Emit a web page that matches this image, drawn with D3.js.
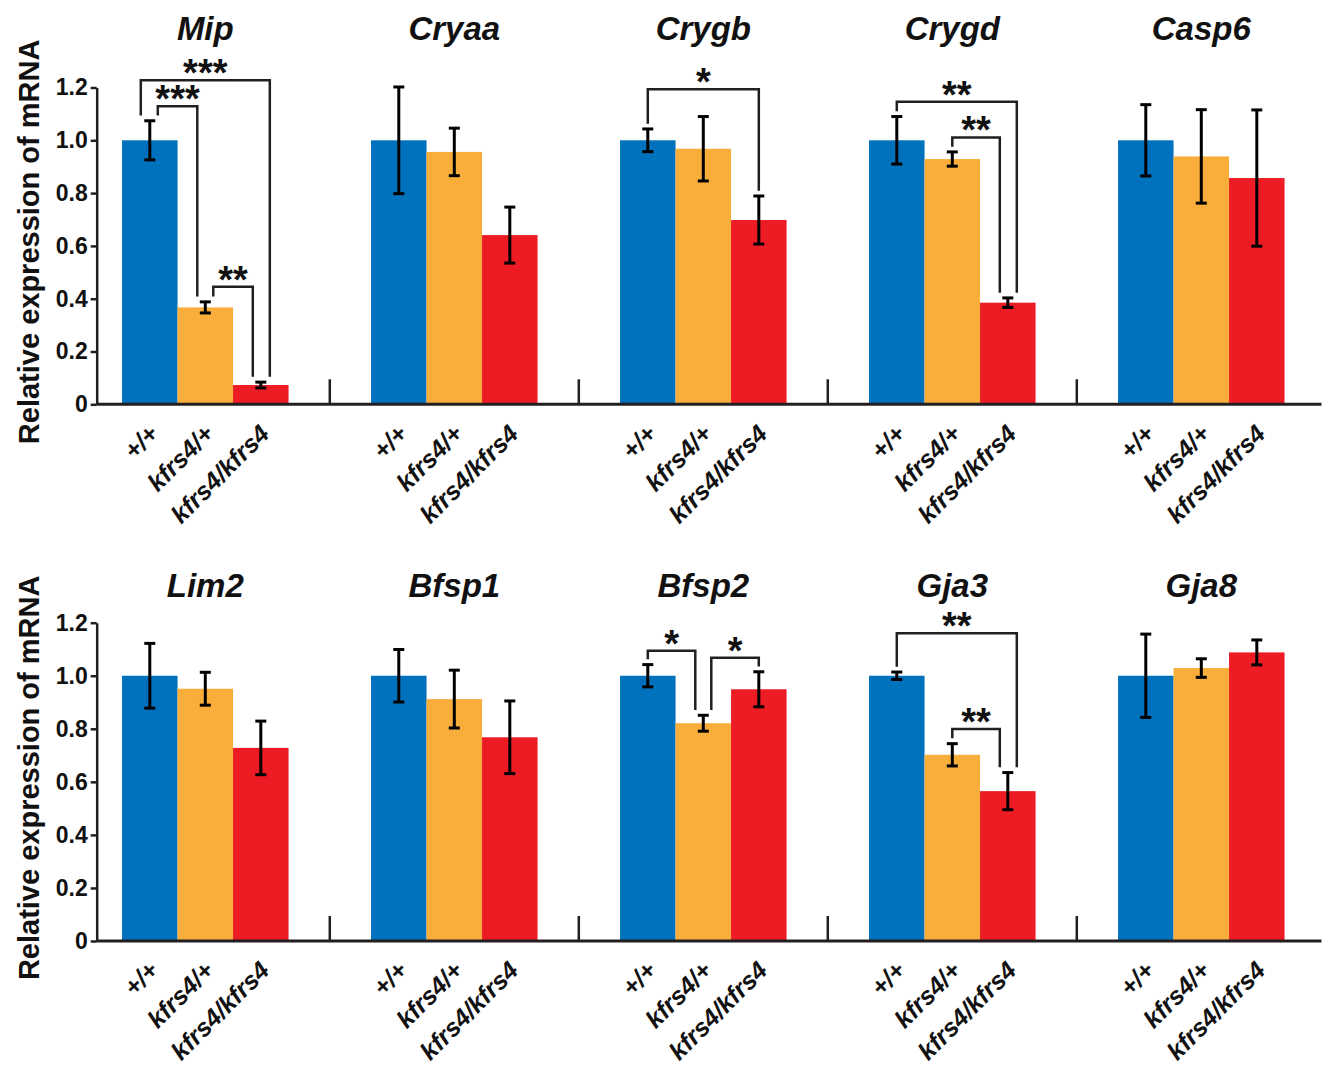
<!DOCTYPE html>
<html>
<head>
<meta charset="utf-8">
<script src="https://cdn.jsdelivr.net/npm/d3@7"></script>
<style>
  body { margin: 0; background: #fff; }
  svg { display: block; }
  text { font-family: "Liberation Sans", Arial, sans-serif; font-weight: bold; fill: #111; }
</style>
</head>
<body>
<div class="chart"></div>
<script>
// genes, two rows of five
const genes = ["Mip", "Cryaa", "Crygb", "Crygd", "Casp6", "Lim2", "Bfsp1", "Bfsp2", "Gja3", "Gja8"];
const genotypes = ["+/+", "kfrs4/+", "kfrs4/kfrs4"];

// relative mRNA level (mean) and error for each genotype
const meanWT  = [1.0, 1.0, 1.0, 1.0, 1.0, 1.0, 1.0, 1.0, 1.0, 1.0];
const errWT   = [0.074, 0.202, 0.043, 0.09, 0.135, 0.122, 0.099, 0.042, 0.014, 0.157];
const meanHet = [0.367, 0.956, 0.968, 0.929, 0.939, 0.951, 0.912, 0.821, 0.702, 1.029];
const errHet  = [0.021, 0.09, 0.122, 0.027, 0.177, 0.062, 0.109, 0.03, 0.042, 0.035];
const meanHom = [0.073, 0.641, 0.698, 0.385, 0.857, 0.728, 0.768, 0.949, 0.565, 1.088];
const errHom  = [0.011, 0.106, 0.091, 0.018, 0.258, 0.101, 0.137, 0.066, 0.07, 0.047];

const yTicks = [0, 0.2, 0.4, 0.6, 0.8, 1.0, 1.2];
const yTickLabels = ["0", "0.2", "0.4", "0.6", "0.8", "1.0", "1.2"];
const yTitle = "Relative expression of mRNA";

// significance brackets: gene, genotype index from/to, bracket height (data units), stars
const sigGene  = ["Mip", "Mip", "Mip", "Crygb", "Crygd", "Crygd", "Bfsp2", "Bfsp2", "Gja3", "Gja3"];
const sigFrom  = [0, 0, 1, 0, 0, 1, 0, 1, 0, 1];
const sigTo    = [2, 1, 2, 2, 2, 2, 1, 2, 2, 2];
const sigLevel = [1.227, 1.129, 0.445, 1.193, 1.146, 1.011, 1.094, 1.068, 1.16, 0.799];
const sigText  = ["***", "***", "**", "*", "**", "**", "*", "*", "**", "**"];

const colors = ["#0071bc", "#f9ae3b", "#ed1c24"];
const ink = "#231f20";

const W = 1323, H = 1067;
const rows = [
  { base: 404.3, top: 87.5, titleY: 40 },
  { base: 941, top: 622.7, titleY: 597 }
];
const axisX = 96.7, axisEnd = 1321.5;

const svg = d3.select(".chart").append("svg").attr("width", W).attr("height", H);

const x = d3.scaleBand().domain(d3.range(5)).range([80.8, 1325.8]);
const xi = d3.scaleBand().domain(d3.range(3)).range([0, x.bandwidth()])
  .paddingInner(0).paddingOuter(0.743);

const means = [meanWT, meanHet, meanHom];
const errs = [errWT, errHet, errHom];

rows.forEach((row, r) => {
  const y = d3.scaleLinear().domain([0, 1.2]).range([row.base, row.top]);
  const g = svg.append("g");
  const cx = (i, j) => x(i) + xi(j) + xi.bandwidth() / 2;

  // bars
  for (let i = 0; i < 5; i++) {
    const gi = r * 5 + i;
    g.selectAll(null).data(d3.range(3)).join("rect")
      .attr("x", j => x(i) + xi(j))
      .attr("y", j => y(means[j][gi]))
      .attr("width", xi.bandwidth())
      .attr("height", j => row.base - y(means[j][gi]))
      .attr("fill", j => colors[j]);

    // error bars
    const eb = g.selectAll(null).data(d3.range(3)).join("g")
      .attr("stroke", "#000").attr("stroke-width", 3);
    eb.append("line")
      .attr("x1", j => cx(i, j)).attr("x2", j => cx(i, j))
      .attr("y1", j => y(means[j][gi] + errs[j][gi]))
      .attr("y2", j => y(means[j][gi] - errs[j][gi]));
    eb.append("line")
      .attr("x1", j => cx(i, j) - 5.5).attr("x2", j => cx(i, j) + 5.5)
      .attr("y1", j => y(means[j][gi] + errs[j][gi]))
      .attr("y2", j => y(means[j][gi] + errs[j][gi]));
    eb.append("line")
      .attr("x1", j => cx(i, j) - 5.5).attr("x2", j => cx(i, j) + 5.5)
      .attr("y1", j => y(means[j][gi] - errs[j][gi]))
      .attr("y2", j => y(means[j][gi] - errs[j][gi]));

    // gene title
    g.append("text")
      .attr("x", x(i) + x.bandwidth() / 2)
      .attr("y", row.titleY)
      .attr("text-anchor", "middle")
      .attr("font-size", 33)
      .attr("font-style", "italic")
      .text(genes[gi]);

    // genotype labels
    g.selectAll(null).data(genotypes).join("text")
      .attr("transform", (d, j) => `translate(${cx(i, j) + 10},${row.base + 31}) rotate(-45)`)
      .attr("text-anchor", "end")
      .attr("font-size", 25)
      .attr("font-style", "italic")
      .text(d => d);

    // separator ticks on the baseline
    if (i > 0) {
      g.append("line")
        .attr("x1", x(i)).attr("x2", x(i))
        .attr("y1", row.base - 25).attr("y2", row.base)
        .attr("stroke", ink).attr("stroke-width", 2.5);
    }
  }

  // significance brackets for this row
  const idx = d3.range(sigGene.length).filter(k => genes.indexOf(sigGene[k]) >= r * 5 && genes.indexOf(sigGene[k]) < r * 5 + 5);
  idx.forEach(k => {
    const gi = genes.indexOf(sigGene[k]);
    const i = gi - r * 5;
    const legX = (bar, other) => {
      const span = sigTo[k] - sigFrom[k];
      const shared = idx.filter(m => m !== k && sigGene[m] === sigGene[k] && (sigFrom[m] === bar || sigTo[m] === bar));
      if (!shared.length) return cx(i, bar);
      const otherSpan = sigTo[shared[0]] - sigFrom[shared[0]];
      const dir = Math.sign(other - bar);
      return otherSpan < span ? cx(i, bar) - dir * 9 : cx(i, bar) + dir * 8;
    };
    const a = sigFrom[k], b = sigTo[k];
    const x1 = legX(a, b), x2 = legX(b, a);
    const foot1 = y(means[a][gi] + errs[a][gi] + 0.02);
    const foot2 = y(means[b][gi] + errs[b][gi] + 0.02);
    const top = y(sigLevel[k]);
    g.append("path")
      .attr("d", `M${x1},${foot1}V${top}H${x2}V${foot2}`)
      .attr("fill", "none").attr("stroke", ink).attr("stroke-width", 2.5);
    g.append("text")
      .attr("x", (x1 + x2) / 2)
      .attr("y", top + 6)
      .attr("text-anchor", "middle")
      .attr("font-size", 38)
      .text(sigText[k]);
  });

  // y axis
  const ax = g.append("g")
    .attr("transform", `translate(${axisX},0)`)
    .call(d3.axisLeft(y).tickValues(yTicks).tickFormat((d, n) => yTickLabels[n]).tickSize(6).tickSizeOuter(0));
  ax.select(".domain").attr("stroke", ink).attr("stroke-width", 2.5);
  ax.selectAll(".tick line").attr("stroke", ink).attr("stroke-width", 2.5);
  ax.selectAll(".tick text").attr("font-size", 23).attr("font-family", null).attr("fill", "#111").attr("x", -9);

  // x baseline
  g.append("line")
    .attr("x1", axisX).attr("x2", axisEnd)
    .attr("y1", row.base).attr("y2", row.base)
    .attr("stroke", ink).attr("stroke-width", 3);

  // y title
  g.append("text")
    .attr("transform", `translate(39,${(row.base + row.top) / 2 - 4}) rotate(-90)`)
    .attr("text-anchor", "middle")
    .attr("font-size", 29)
    .text(yTitle);
});
</script>
</body>
</html>
